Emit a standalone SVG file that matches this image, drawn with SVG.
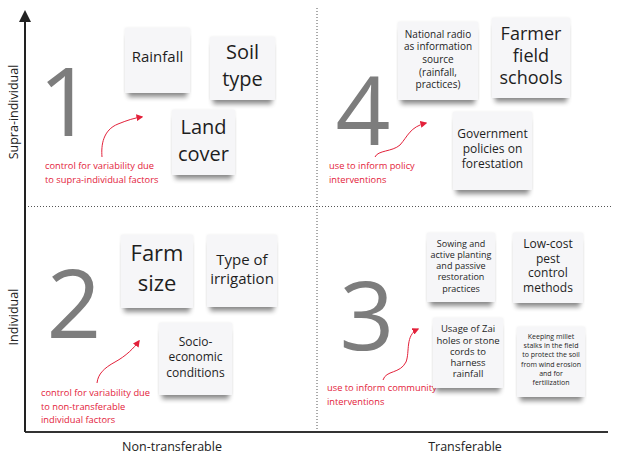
<svg xmlns="http://www.w3.org/2000/svg" width="624" height="464" viewBox="0 0 624 464">
<defs>
<filter id="sh" x="-20%" y="-20%" width="140%" height="150%">
<feMorphology in="SourceAlpha" operator="erode" radius="3 2" result="e"/>
<feGaussianBlur in="e" stdDeviation="2.5" result="b"/>
<feOffset in="b" dx="0" dy="6" result="o"/>
<feComponentTransfer in="o" result="s"><feFuncA type="linear" slope="0.45"/></feComponentTransfer>
<feGaussianBlur in="SourceAlpha" stdDeviation="1.5" result="h"/>
<feComponentTransfer in="h" result="hs"><feFuncA type="linear" slope="0.08"/></feComponentTransfer>
<feMerge><feMergeNode in="s"/><feMergeNode in="hs"/><feMergeNode in="SourceGraphic"/></feMerge>
</filter>
<marker id="ra" viewBox="0 0 10 10" refX="8" refY="5" markerWidth="7" markerHeight="7" orient="auto-start-reverse">
<path d="M0,0 L10,5 L0,10 z" fill="#e3213a"/>
</marker>
</defs>
<style>
text{font-family:"Open Sans","Noto Sans","Liberation Sans",sans-serif;}
.note{fill:#f6f6f8;filter:url(#sh);}
.nt{fill:#1e1e1e;text-anchor:middle;}
.big{fill:#7d7d7d;font-size:96px;font-weight:400;text-anchor:middle;}
.red{fill:#e3213a;font-size:9.3px;}
.ax{fill:#222;font-size:12.5px;text-anchor:middle;}
.dot{stroke:#555;stroke-width:1;stroke-dasharray:1 2;fill:none;}
.rc{stroke:#e3213a;stroke-width:1;fill:none;marker-end:url(#ra);}
</style>
<rect width="624" height="464" fill="#fff"/>

<g id="axes">
<line class="dot" x1="317" y1="8" x2="317" y2="432"/>
<line class="dot" x1="25" y1="206.5" x2="612" y2="206.5"/>
<line x1="25" y1="432" x2="608" y2="432" stroke="#333" stroke-width="2"/>
<line x1="25" y1="432" x2="25" y2="14" stroke="#222" stroke-width="2"/>
<path d="M19,22 L25,10 L31,22 z" fill="#222"/>
<text class="ax" transform="translate(18,112) rotate(-90)">Supra-individual</text>
<text class="ax" transform="translate(18,317) rotate(-90)">Individual</text>
<text class="ax" x="172" y="451">Non-transferable</text>
<text class="ax" x="465" y="451">Transferable</text>
</g>

<g id="numbers">
<text class="big" x="66" y="136">1</text>
<text class="big" x="74" y="338">2</text>
<text class="big" x="367" y="350">3</text>
<text class="big" x="363" y="145">4</text>
</g>

<g id="connectors">
<path class="rc" d="M102,157 C101,145 103,130 118,124 C128,120 134,118 142,117"/>
<path class="rc" d="M375,157 C378,150 392,152 400,145 C408,136 410,127 426,123"/>
<path class="rc" d="M97,383 C98,374 104,368 115,362 C126,356 134,348 139,341"/>
<path class="rc" d="M383,380 C386,370 400,374 406,362 C410,352 405,335 418,329"/>
</g>

<g id="labels">
<text class="red"><tspan x="45" y="169">control for variability due</tspan><tspan x="45" y="183">to supra-individual factors</tspan></text>
<text class="red"><tspan x="329" y="169">use to inform policy</tspan><tspan x="329" y="183">interventions</tspan></text>
<text class="red"><tspan x="41" y="396">control for variability due</tspan><tspan x="41" y="410">to non-transferable</tspan><tspan x="41" y="423">individual factors</tspan></text>
<text class="red"><tspan x="327" y="391">use to inform community</tspan><tspan x="327" y="405">interventions</tspan></text>
</g>

<g id="n-rainfall"><rect class="note" x="125" y="28" width="65" height="65"/>
<text class="nt" font-size="15" x="157.5" y="62">Rainfall</text></g>
<g id="n-soil"><rect class="note" x="210" y="37" width="65" height="63"/>
<text class="nt" font-size="20"><tspan x="242.5" y="59">Soil</tspan><tspan x="242.5" y="86">type</tspan></text></g>
<g id="n-land"><rect class="note" x="172" y="110" width="63" height="65"/>
<text class="nt" font-size="20"><tspan x="203.5" y="134">Land</tspan><tspan x="203.5" y="161">cover</tspan></text></g>

<g id="n-radio"><rect class="note" x="398" y="22" width="80" height="78"/>
<text class="nt" font-size="10"><tspan x="438" y="38">National radio</tspan><tspan x="438" y="50">as information</tspan><tspan x="438" y="63">source</tspan><tspan x="438" y="76">(rainfall,</tspan><tspan x="438" y="88">practices)</tspan></text></g>
<g id="n-ffs"><rect class="note" x="492" y="18" width="78" height="80"/>
<text class="nt" font-size="18"><tspan x="531" y="40">Farmer</tspan><tspan x="531" y="62">field</tspan><tspan x="531" y="84">schools</tspan></text></g>
<g id="n-gov"><rect class="note" x="453" y="112" width="79" height="78"/>
<text class="nt" font-size="12"><tspan x="492.5" y="138">Government</tspan><tspan x="492.5" y="153">policies on</tspan><tspan x="492.5" y="168">forestation</tspan></text></g>

<g id="n-farm"><rect class="note" x="121" y="235" width="72" height="73"/>
<text class="nt" font-size="22"><tspan x="157" y="261">Farm</tspan><tspan x="157" y="291">size</tspan></text></g>
<g id="n-irr"><rect class="note" x="207" y="235" width="70" height="72"/>
<text class="nt" font-size="15"><tspan x="242" y="265">Type of</tspan><tspan x="242" y="284">irrigation</tspan></text></g>
<g id="n-socio"><rect class="note" x="159" y="323" width="73" height="72"/>
<text class="nt" font-size="12"><tspan x="195.5" y="346">Socio-</tspan><tspan x="195.5" y="361">economic</tspan><tspan x="195.5" y="377">conditions</tspan></text></g>

<g id="n-sowing"><rect class="note" x="427" y="233" width="68" height="69"/>
<text class="nt" font-size="9"><tspan x="461" y="247">Sowing and</tspan><tspan x="461" y="258">active planting</tspan><tspan x="461" y="269">and passive</tspan><tspan x="461" y="280">restoration</tspan><tspan x="461" y="292">practices</tspan></text></g>
<g id="n-pest"><rect class="note" x="513" y="233" width="70" height="70"/>
<text class="nt" font-size="12"><tspan x="548" y="248">Low-cost</tspan><tspan x="548" y="263">pest</tspan><tspan x="548" y="277">control</tspan><tspan x="548" y="292">methods</tspan></text></g>
<g id="n-zai"><rect class="note" x="433" y="318" width="70" height="70"/>
<text class="nt" font-size="9.5"><tspan x="468" y="332">Usage of Zai</tspan><tspan x="468" y="344">holes or stone</tspan><tspan x="468" y="355">cords to</tspan><tspan x="468" y="366">harness</tspan><tspan x="468" y="377">rainfall</tspan></text></g>
<g id="n-millet"><rect class="note" x="517" y="327" width="68" height="70"/>
<text class="nt" font-size="7"><tspan x="551" y="339">Keeping millet</tspan><tspan x="551" y="348">stalks in the field</tspan><tspan x="551" y="357">to protect the soil</tspan><tspan x="551" y="367">from wind erosion</tspan><tspan x="551" y="376">and for</tspan><tspan x="551" y="385">fertilization</tspan></text></g>
</svg>
